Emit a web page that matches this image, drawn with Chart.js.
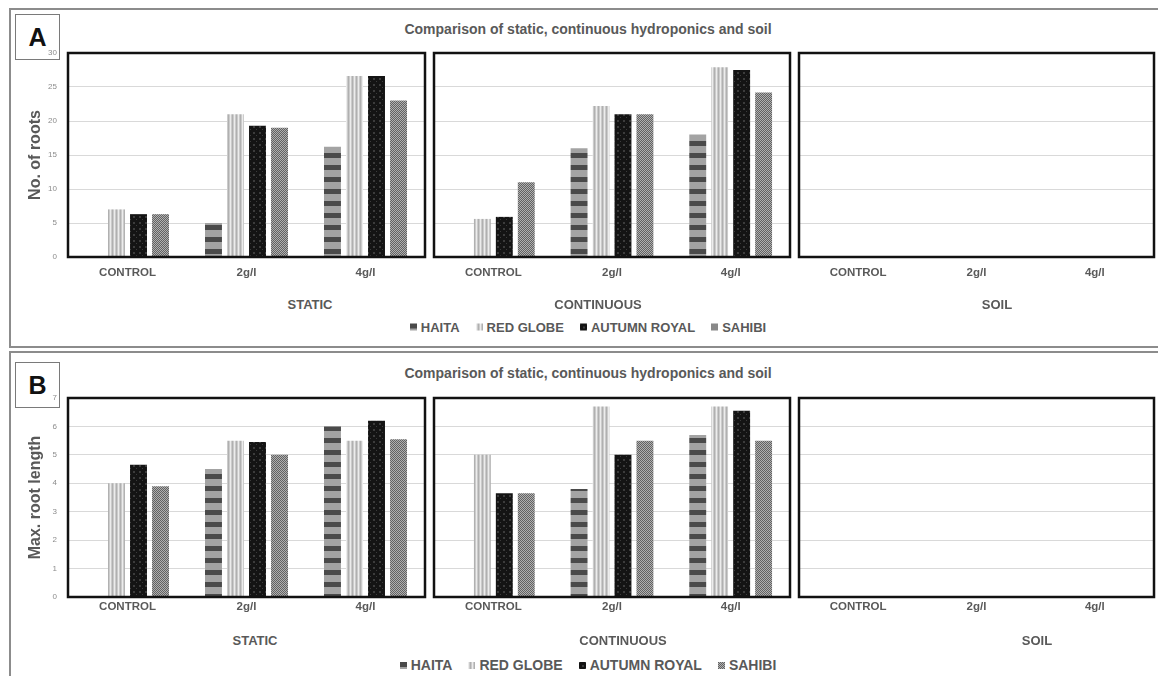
<!DOCTYPE html>
<html>
<head>
<meta charset="utf-8">
<script src="https://cdn.jsdelivr.net/npm/chart.js@4.4.1/dist/chart.umd.min.js"></script>
<style>
body{margin:0;background:#fff;width:1158px;height:676px;overflow:hidden;position:relative;font-family:"Liberation Sans",Arial,sans-serif;}
.panel{position:absolute;border:2px solid #8c8c8c;box-sizing:border-box;}
.letter{position:absolute;width:45px;height:46px;border:1.5px solid #7a7a7a;box-sizing:border-box;font-weight:bold;font-size:25px;text-align:center;line-height:44px;color:#111;background:#fff;}
.lbl{position:absolute;transform:translate(-50%,-50%);white-space:nowrap;font-weight:bold;color:#595959;}
.box{position:absolute;}
.legend{position:absolute;left:0;width:1176px;display:flex;justify-content:center;font-weight:bold;color:#595959;transform:translateY(-50%);}
.legend span{display:inline-flex;align-items:center;margin:0 8px;}
.legend i{display:inline-block;width:7px;height:7px;margin-right:4px;}
</style>
</head>
<body>
<div class="panel" style="left:9px;top:8px;width:1160px;height:340px;"></div>
<div class="panel" style="left:9px;top:351px;width:1160px;height:340px;"></div>
<div class="letter" style="left:15px;top:14px;">A</div>
<div class="letter" style="left:15px;top:362px;">B</div>
<div class="lbl" style="left:588px;top:29px;font-size:14px;">Comparison of static, continuous hydroponics and soil</div>
<div class="lbl" style="left:588px;top:373px;font-size:14px;">Comparison of static, continuous hydroponics and soil</div>

<div class="box" id="a1"><canvas></canvas></div>
<div class="box" id="a2"><canvas></canvas></div>
<div class="box" id="a3"><canvas></canvas></div>
<div class="box" id="b1"><canvas></canvas></div>
<div class="box" id="b2"><canvas></canvas></div>
<div class="box" id="b3"><canvas></canvas></div>

<div class="lbl" style="left:310px;top:304px;font-size:13px;">STATIC</div>
<div class="lbl" style="left:598px;top:304px;font-size:13px;">CONTINUOUS</div>
<div class="lbl" style="left:997px;top:304px;font-size:13px;">SOIL</div>
<div class="lbl" style="left:255px;top:640px;font-size:13px;">STATIC</div>
<div class="lbl" style="left:623px;top:640px;font-size:13px;">CONTINUOUS</div>
<div class="lbl" style="left:1037px;top:640px;font-size:13px;">SOIL</div>

<div class="legend" id="legA" style="top:327px;font-size:13px;"></div>
<div class="legend" id="legB" style="top:665px;font-size:14px;"></div>

<script>
const categories = ['CONTROL', '2g/l', '4g/l'];
const varieties = ['HAITA', 'RED GLOBE', 'AUTUMN ROYAL', 'SAHIBI'];
const rootTicks = [0, 5, 10, 15, 20, 25, 30];
const lengthTicks = [0, 1, 2, 3, 4, 5, 6, 7];

// rows = varieties, columns = categories
const rootsStatic = [[0, 5, 16.2], [7, 21, 26.6], [6.3, 19.3, 26.6], [6.3, 19, 23]];
const rootsContinuous = [[0, 16, 18], [5.6, 22.2, 27.9], [5.9, 21, 27.5], [11, 21, 24.2]];
const rootsSoil = [[0, 0, 0], [0, 0, 0], [0, 0, 0], [0, 0, 0]];
const lengthStatic = [[0, 4.5, 6.0], [4.0, 5.5, 5.5], [4.65, 5.45, 6.2], [3.9, 5.0, 5.55]];
const lengthContinuous = [[0, 3.8, 5.7], [5.0, 6.7, 6.7], [3.65, 5.0, 6.55], [3.65, 5.5, 5.5]];
const lengthSoil = [[0, 0, 0], [0, 0, 0], [0, 0, 0], [0, 0, 0]];

Chart.defaults.font.family = '"Liberation Sans", Arial, sans-serif';

function tile(w, h, draw) {
  const c = document.createElement('canvas');
  c.width = w; c.height = h;
  draw(c.getContext('2d'));
  return c;
}
const tiles = [
  tile(4, 12, g => { g.fillStyle = '#a3a3a3'; g.fillRect(0, 0, 4, 12); g.fillStyle = '#4a4a4a'; g.fillRect(0, 0, 4, 5); }),
  tile(4, 4, g => { g.fillStyle = '#cbcbcb'; g.fillRect(0, 0, 4, 4); g.fillStyle = '#ececec'; g.fillRect(0, 0, 1, 4); g.fillStyle = '#b0b0b0'; g.fillRect(2, 0, 1, 4); }),
  tile(6, 6, g => { g.fillStyle = '#141414'; g.fillRect(0, 0, 6, 6); g.fillStyle = '#3c3c3c'; g.fillRect(3, 3, 2, 2); g.fillRect(0, 0, 1, 1); }),
  tile(2, 2, g => { g.fillStyle = '#b0b0b0'; g.fillRect(0, 0, 2, 2); g.fillStyle = '#626262'; g.fillRect(0, 0, 1, 1); g.fillRect(1, 1, 1, 1); })
];

const boxBorder = {
  id: 'boxBorder',
  afterDraw(chart) {
    const { ctx, chartArea: a } = chart;
    ctx.save();
    ctx.strokeStyle = '#111';
    ctx.lineWidth = 2.5;
    ctx.strokeRect(a.left, a.top, a.right - a.left, a.bottom - a.top);
    ctx.restore();
  }
};

function makeChart(id, box, values, ticks, opt) {
  const yw = opt.yTitle ? box.l - 22 : 30;
  const padTop = 8, padRight = 4, xh = 30;
  const el = document.getElementById(id);
  el.style.left = (box.l - yw) + 'px';
  el.style.top = (box.t - padTop) + 'px';
  el.style.width = (box.r - box.l + yw + padRight) + 'px';
  el.style.height = (box.b - box.t + padTop + xh) + 'px';
  const canvas = el.querySelector('canvas');
  const ctx = canvas.getContext('2d');
  new Chart(ctx, {
    type: 'bar',
    data: {
      labels: categories,
      datasets: varieties.map((v, i) => ({
        label: v,
        data: values[i],
        backgroundColor: ctx.createPattern(tiles[i], 'repeat'),
        borderWidth: 0,
        categoryPercentage: 0.74,
        barPercentage: 0.77
      }))
    },
    options: {
      responsive: true,
      maintainAspectRatio: false,
      animation: false,
      layout: { padding: { top: padTop, right: padRight, left: 0, bottom: 0 } },
      plugins: { legend: { display: false }, tooltip: { enabled: false } },
      scales: {
        x: {
          grid: { display: false, drawTicks: false },
          border: { display: false },
          ticks: { color: '#595959', font: { size: 11.5, weight: 'bold' }, padding: opt.xPad, maxRotation: 0 },
          afterFit: s => { s.height = xh; s.paddingLeft = 0; s.paddingRight = 0; }
        },
        y: {
          min: ticks[0],
          max: ticks[ticks.length - 1],
          grid: { color: '#d9d9d9', drawTicks: false },
          border: { display: false },
          ticks: { display: !!opt.yTitle, stepSize: ticks[1] - ticks[0], color: '#8c8c8c', font: { size: 8 }, padding: 11 },
          title: { display: !!opt.yTitle, text: opt.yTitle || '', color: '#595959', font: { size: 16, weight: 'bold' }, padding: { top: 4, bottom: 0 } },
          afterFit: s => { s.width = yw; s.paddingTop = 0; s.paddingBottom = 0; }
        }
      }
    },
    plugins: [boxBorder]
  });
}

const cols = [[68, 425], [434, 790], [799, 1154]];
const aT = 53, aB = 257, bT = 398, bB = 597;
makeChart('a1', { l: cols[0][0], r: cols[0][1], t: aT, b: aB }, rootsStatic, rootTicks, { yTitle: 'No. of roots', xPad: 9 });
makeChart('a2', { l: cols[1][0], r: cols[1][1], t: aT, b: aB }, rootsContinuous, rootTicks, { xPad: 9 });
makeChart('a3', { l: cols[2][0], r: cols[2][1], t: aT, b: aB }, rootsSoil, rootTicks, { xPad: 9 });
makeChart('b1', { l: cols[0][0], r: cols[0][1], t: bT, b: bB }, lengthStatic, lengthTicks, { yTitle: 'Max. root length', xPad: 3 });
makeChart('b2', { l: cols[1][0], r: cols[1][1], t: bT, b: bB }, lengthContinuous, lengthTicks, { xPad: 3 });
makeChart('b3', { l: cols[2][0], r: cols[2][1], t: bT, b: bB }, lengthSoil, lengthTicks, { xPad: 3 });

// legends
['legA', 'legB'].forEach(id => {
  const leg = document.getElementById(id);
  varieties.forEach((v, i) => {
    const s = document.createElement('span');
    const sw = document.createElement('i');
    sw.style.backgroundImage = 'url(' + tiles[i].toDataURL() + ')';
    s.appendChild(sw);
    s.appendChild(document.createTextNode(v));
    leg.appendChild(s);
  });
});
</script>
</body>
</html>
